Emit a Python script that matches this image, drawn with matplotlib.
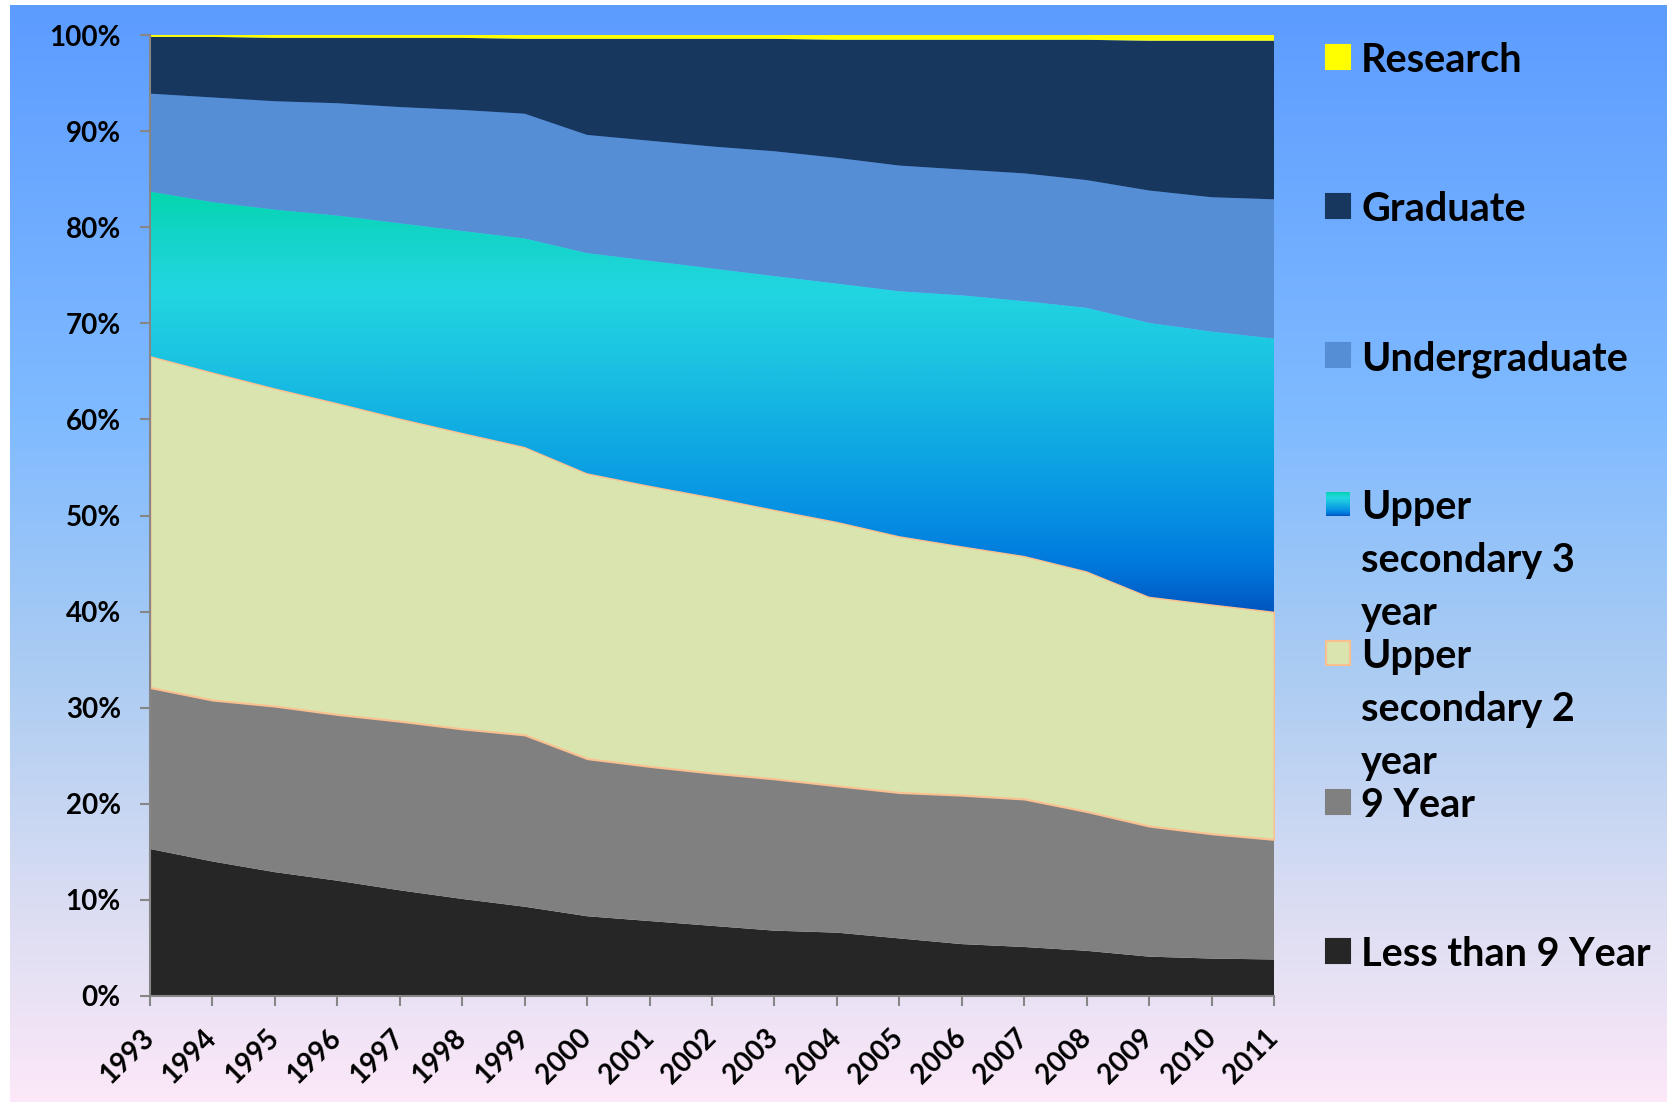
import numpy as np
import matplotlib
matplotlib.use("Agg")
import matplotlib.pyplot as plt
from matplotlib.colors import LinearSegmentedColormap
from matplotlib.patches import Rectangle

W, H = 1667, 1105

years = list(range(1993, 2012))

# shares in percent
less_than_9 = [15.3, 14.0, 12.9, 12.0, 11.0, 10.1, 9.3, 8.3, 7.8, 7.3, 6.8, 6.6, 6.0, 5.4, 5.1, 4.7, 4.1, 3.9, 3.8]
nine_year = [16.8, 16.8, 17.3, 17.3, 17.6, 17.7, 17.9, 16.4, 16.1, 15.9, 15.8, 15.3, 15.2, 15.5, 15.4, 14.5, 13.6, 13.0, 12.5]
upper_sec_2 = [34.5, 34.1, 33.1, 32.4, 31.5, 30.8, 30.0, 29.7, 29.2, 28.7, 28.0, 27.5, 26.7, 25.9, 25.3, 25.0, 23.9, 23.9, 23.7]
upper_sec_3 = [17.1, 17.7, 18.6, 19.5, 20.3, 21.0, 21.7, 22.9, 23.4, 23.8, 24.3, 24.8, 25.5, 26.1, 26.5, 27.4, 28.5, 28.4, 28.4]
undergraduate = [10.2, 10.9, 11.3, 11.7, 12.1, 12.6, 13.0, 12.3, 12.5, 12.7, 13.0, 13.1, 13.1, 13.1, 13.3, 13.3, 13.8, 14.0, 14.5]
graduate = [5.9, 6.3, 6.6, 6.8, 7.2, 7.5, 7.8, 10.0, 10.6, 11.2, 11.7, 12.3, 13.1, 13.5, 13.9, 14.6, 15.6, 16.3, 16.5]
research = [0.2, 0.2, 0.3, 0.3, 0.3, 0.3, 0.4, 0.4, 0.4, 0.4, 0.4, 0.5, 0.5, 0.5, 0.5, 0.5, 0.6, 0.6, 0.6]

series = [less_than_9, nine_year, upper_sec_2, upper_sec_3, undergraduate, graduate, research]
labels = ["Less than 9 Year", "9 Year", "Upper\nsecondary 2\nyear", "Upper\nsecondary 3\nyear",
          "Undergraduate", "Graduate", "Research"]
colors = ["#262626", "#808080", "#D9E4AE", "#16BEE0", "#558ED5", "#17375E", "#FFFF00"]

plt.rcParams['font.family'] = ['Lato', 'DejaVu Sans']
plt.rcParams['font.weight'] = 'bold'

def fx(x): return x / W
def fy(y): return 1 - y / H

data = np.array(series, dtype=float)
data = data / data.sum(axis=0) * 100

fig = plt.figure(figsize=(W / 100, H / 100), dpi=100, facecolor="white")

# background gradient
bg_cmap = LinearSegmentedColormap.from_list("bg", [
    (0.0, "#5C9CFF"), (0.38, "#80BBFF"), (0.62, "#AECDF2"),
    (0.82, "#DADDF2"), (1.0, "#FCE8F8")])
bg = fig.add_axes([fx(10), fy(1102), fx(W - 10), (1102 - 5) / H])
bg.imshow(np.linspace(0, 1, 256).reshape(-1, 1), aspect="auto", cmap=bg_cmap,
          extent=[0, 1, 0, 1])
bg.axis("off")

us3_cmap = LinearSegmentedColormap.from_list("us3", [
    (0.0, "#04D6AE"), (0.09, "#12D4C6"), (0.23, "#22D6E0"), (0.41, "#1BC2E2"),
    (0.59, "#10AAE2"), (0.77, "#0690E4"), (0.89, "#0078DC"), (1.0, "#0056C0")])

ax = fig.add_axes([fx(150), fy(996), fx(1274) - fx(150), (996 - 35) / H])
ax.patch.set_alpha(0)

polys = ax.stackplot(years, *data, colors=colors, linewidth=0)
polys[2].set_edgecolor("#FAC090")
polys[2].set_linewidth(1.5)

# gradient fill for upper secondary 3 year
cum = np.cumsum(data, axis=0)
lo, hi = cum[2].min(), cum[3].max()
polys[3].set_facecolor("none")
im = ax.imshow(np.linspace(0, 1, 256).reshape(-1, 1), aspect="auto", cmap=us3_cmap,
               extent=[years[0], years[-1], lo, hi], zorder=polys[3].get_zorder())
im.set_clip_path(polys[3].get_paths()[0], transform=ax.transData)

ax.set_xlim(years[0], years[-1])
ax.set_ylim(0, 100)
ax.set_yticks(range(0, 101, 10))
ax.set_yticklabels([f"{v}%" for v in range(0, 101, 10)], fontsize=20, fontweight="bold")
ax.set_xticks(years)
ax.set_xticklabels([str(y) for y in years], fontsize=20, fontweight="bold",
                   rotation=45, ha="right", va="center", rotation_mode="anchor")
for s in ["top", "right"]:
    ax.spines[s].set_visible(False)
for s in ["left", "bottom"]:
    ax.spines[s].set_color("#868686")
    ax.spines[s].set_linewidth(1.5)
    ax.spines[s].set_zorder(5)
ax.tick_params(axis="y", direction="out", length=7, width=1.5, color="#868686", pad=14)
ax.tick_params(axis="x", direction="out", length=7, width=1.5, color="#868686", pad=20)

# legend, top entry = top of stack
for i, k in enumerate(range(len(series) - 1, -1, -1)):
    yc = 57 + i * 149
    if k == 3:
        lax = fig.add_axes([fx(1326), fy(yc + 12), fx(24), 24 / H])
        lax.imshow(np.linspace(0, 1, 64).reshape(-1, 1), aspect="auto", cmap=us3_cmap)
        lax.axis("off")
    else:
        ec = "#FAC090" if k == 2 else colors[k]
        fig.patches.append(Rectangle((fx(1326), fy(yc + 12)), fx(24), 24 / H,
                                     transform=fig.transFigure, facecolor=colors[k],
                                     edgecolor=ec, linewidth=1.5))
    for j, line in enumerate(labels[k].split("\n")):
        fig.text(fx(1361), fy(yc + j * 53), line, fontsize=28.5, fontweight="bold",
                 ha="left", va="center_baseline")

fig.savefig("out.png", dpi=100, facecolor="white")
